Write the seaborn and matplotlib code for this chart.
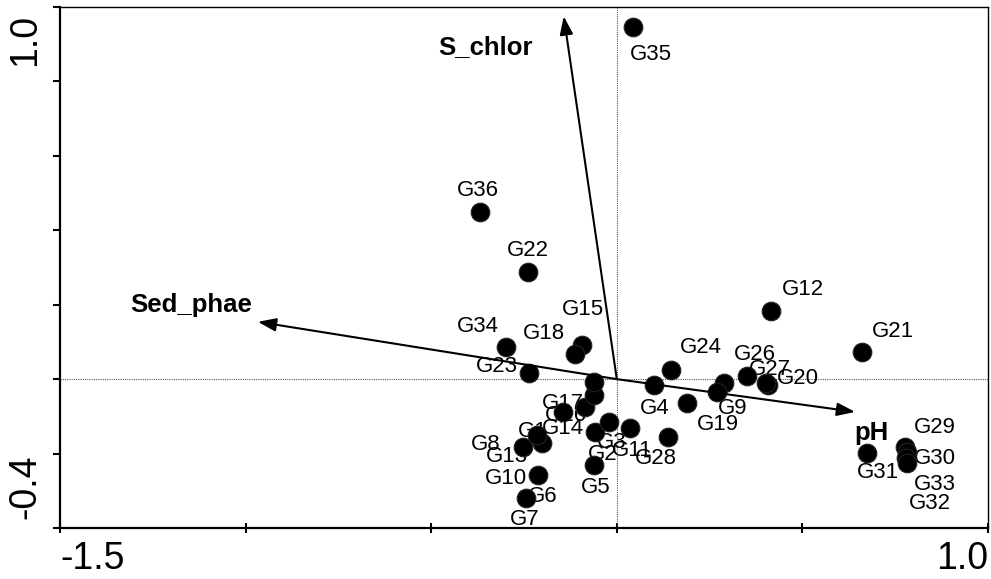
import numpy as np
import pandas as pd
import matplotlib
matplotlib.use("Agg")
import matplotlib.pyplot as plt
from matplotlib.transforms import offset_copy
import seaborn as sns

# site scores
sites = ["G1", "G2", "G3", "G4", "G5", "G6", "G7", "G8", "G9", "G10",
         "G11", "G12", "G13", "G14", "G15", "G16", "G17", "G18", "G19", "G20",
         "G21", "G22", "G23", "G24", "G25", "G26", "G27", "G28", "G29", "G30",
         "G31", "G32", "G33", "G34", "G35", "G36"]
axis1 = [-0.145, -0.059, -0.021, 0.100, -0.061, -0.202, -0.245, -0.253, 0.289, -0.212,
         0.036, 0.415, -0.215, -0.086, -0.094, -0.061, -0.061, -0.113, 0.270, 0.407,
         0.661, -0.239, -0.237, 0.146, 0.189, 0.351, 0.402, 0.138, 0.777, 0.782,
         0.674, 0.779, 0.782, -0.299, 0.044, -0.369]
axis2 = [-0.088, -0.142, -0.115, -0.016, -0.231, -0.171, -0.319, -0.182, -0.010, -0.258,
         -0.131, 0.184, -0.150, -0.075, 0.092, -0.042, -0.008, 0.068, -0.034, -0.016,
         0.073, 0.288, 0.017, 0.025, -0.064, 0.009, -0.010, -0.155, -0.182, -0.196,
         -0.198, -0.212, -0.226, 0.087, 0.947, 0.449]

# environmental variable arrows
env_vars = ["S_chlor", "Sed_phae", "pH"]
env_x = [-0.143, -0.967, 0.642]
env_y = [0.975, 0.154, -0.088]

x_ticks = [-1.5, -1.0, -0.5, 0.0, 0.5, 1.0]
x_ticklabels = ["-1.5", "", "", "", "", "1.0"]
y_ticks = [-0.4, -0.2, 0.0, 0.2, 0.4, 0.6, 0.8, 1.0]
y_ticklabels = ["-0.4", "", "", "", "", "", "", "1.0"]

# label placement (pixels, dx right / dy down)
site_label_offset = {
    "G1": (-30, 20), "G2": (8, 23), "G3": (3, 21), "G4": (1, 23), "G5": (2, 22),
    "G6": (1, 54), "G7": (-1, 22), "G8": (-37, -2), "G9": (9, 26), "G10": (-32, 3),
    "G11": (2, 23), "G12": (32, -21), "G13": (-30, 22), "G14": (-22, 21), "G15": (1, -35),
    "G16": (-28, 21), "G17": (-31, 21), "G18": (-31, -20), "G19": (1, 33), "G20": (30, -7),
    "G21": (31, -20), "G22": (0, -21), "G23": (-32, -6), "G24": (30, -22),
    "G26": (8, -21), "G27": (4, -13), "G28": (-12, 22), "G29": (30, -19), "G30": (28, 6),
    "G31": (11, 20), "G32": (24, 45), "G33": (28, 21), "G34": (-28, -20), "G35": (18, 28),
    "G36": (-2, -22),
}
env_label_offset = {"S_chlor": (-78, 31), "Sed_phae": (-67, -17), "pH": (16, 21)}

df = pd.DataFrame({"site": sites, "ax1": axis1, "ax2": axis2})

sns.set_style("white")
plt.rcParams["font.family"] = ["Liberation Sans", "DejaVu Sans"]
plt.rcParams["text.color"] = "black"
plt.rcParams["xtick.color"] = "black"
plt.rcParams["ytick.color"] = "black"

fig = plt.figure(figsize=(9.91, 5.79), dpi=100)
ax = fig.add_axes([60 / 991, 51 / 579, 928 / 991, 521 / 579])

ax.axhline(0, color="#555555", lw=0.8, ls=(0, (1, 1)), zorder=1)
ax.axvline(0, color="#555555", lw=0.8, ls=(0, (1, 1)), zorder=1)

sns.scatterplot(data=df, x="ax1", y="ax2", ax=ax, color="black", s=180,
                edgecolor="#222222", linewidth=0.8, zorder=3, legend=False)

for _, r in df.iterrows():
    if r["site"] not in site_label_offset:
        continue
    dx, dy = site_label_offset[r["site"]]
    ax.annotate(r["site"], (r["ax1"], r["ax2"]), xytext=(dx, -dy),
                textcoords="offset pixels", ha="center", va="center",
                fontsize=16, color="black", zorder=2)

for name, ex, ey in zip(env_vars, env_x, env_y):
    ax.annotate("", xy=(ex, ey), xytext=(0, 0),
                arrowprops=dict(arrowstyle="-|>,head_length=0.55,head_width=0.2",
                                mutation_scale=20, color="black", lw=1.5,
                                shrinkA=0, shrinkB=0), zorder=4)
    dx, dy = env_label_offset[name]
    ax.annotate(name, (ex, ey), xytext=(dx, -dy), textcoords="offset pixels",
                ha="center", va="center", fontsize=18.5, fontweight="bold",
                color="black")

ax.set_xlim(-1.5, 1.0)
ax.set_ylim(-0.4, 1.0)
ax.set_xticks(x_ticks)
ax.set_xticklabels(x_ticklabels, fontsize=27)
ax.set_yticks(y_ticks)
ax.set_yticklabels([])
ax.set_xlabel("")
ax.set_ylabel("")

ax.tick_params(axis="x", direction="inout", length=7, width=1.5, pad=6, bottom=True)
ax.tick_params(axis="y", direction="out", length=5, width=1.5, pad=6, left=True)

xl = ax.get_xticklabels()
xl[0].set_ha("left")
xl[-1].set_ha("right")

# end labels of the y axis sit just inside the axis range, rotated
ytrans = ax.get_yaxis_transform()
for val, lab in zip(y_ticks, y_ticklabels):
    if not lab:
        continue
    top = val == max(y_ticks)
    tr = offset_copy(ytrans, fig=fig, x=-17, y=(-7 if top else 9), units="dots")
    ax.text(0, val, lab, transform=tr, rotation=90, fontsize=27,
            ha="right", va=("top" if top else "bottom"), color="black",
            clip_on=False)

for side in ["left", "bottom"]:
    ax.spines[side].set_linewidth(1.6)
    ax.spines[side].set_color("black")
for side in ["top", "right"]:
    ax.spines[side].set_linewidth(1.0)
    ax.spines[side].set_color("black")

fig.savefig("out.png", dpi=100)
